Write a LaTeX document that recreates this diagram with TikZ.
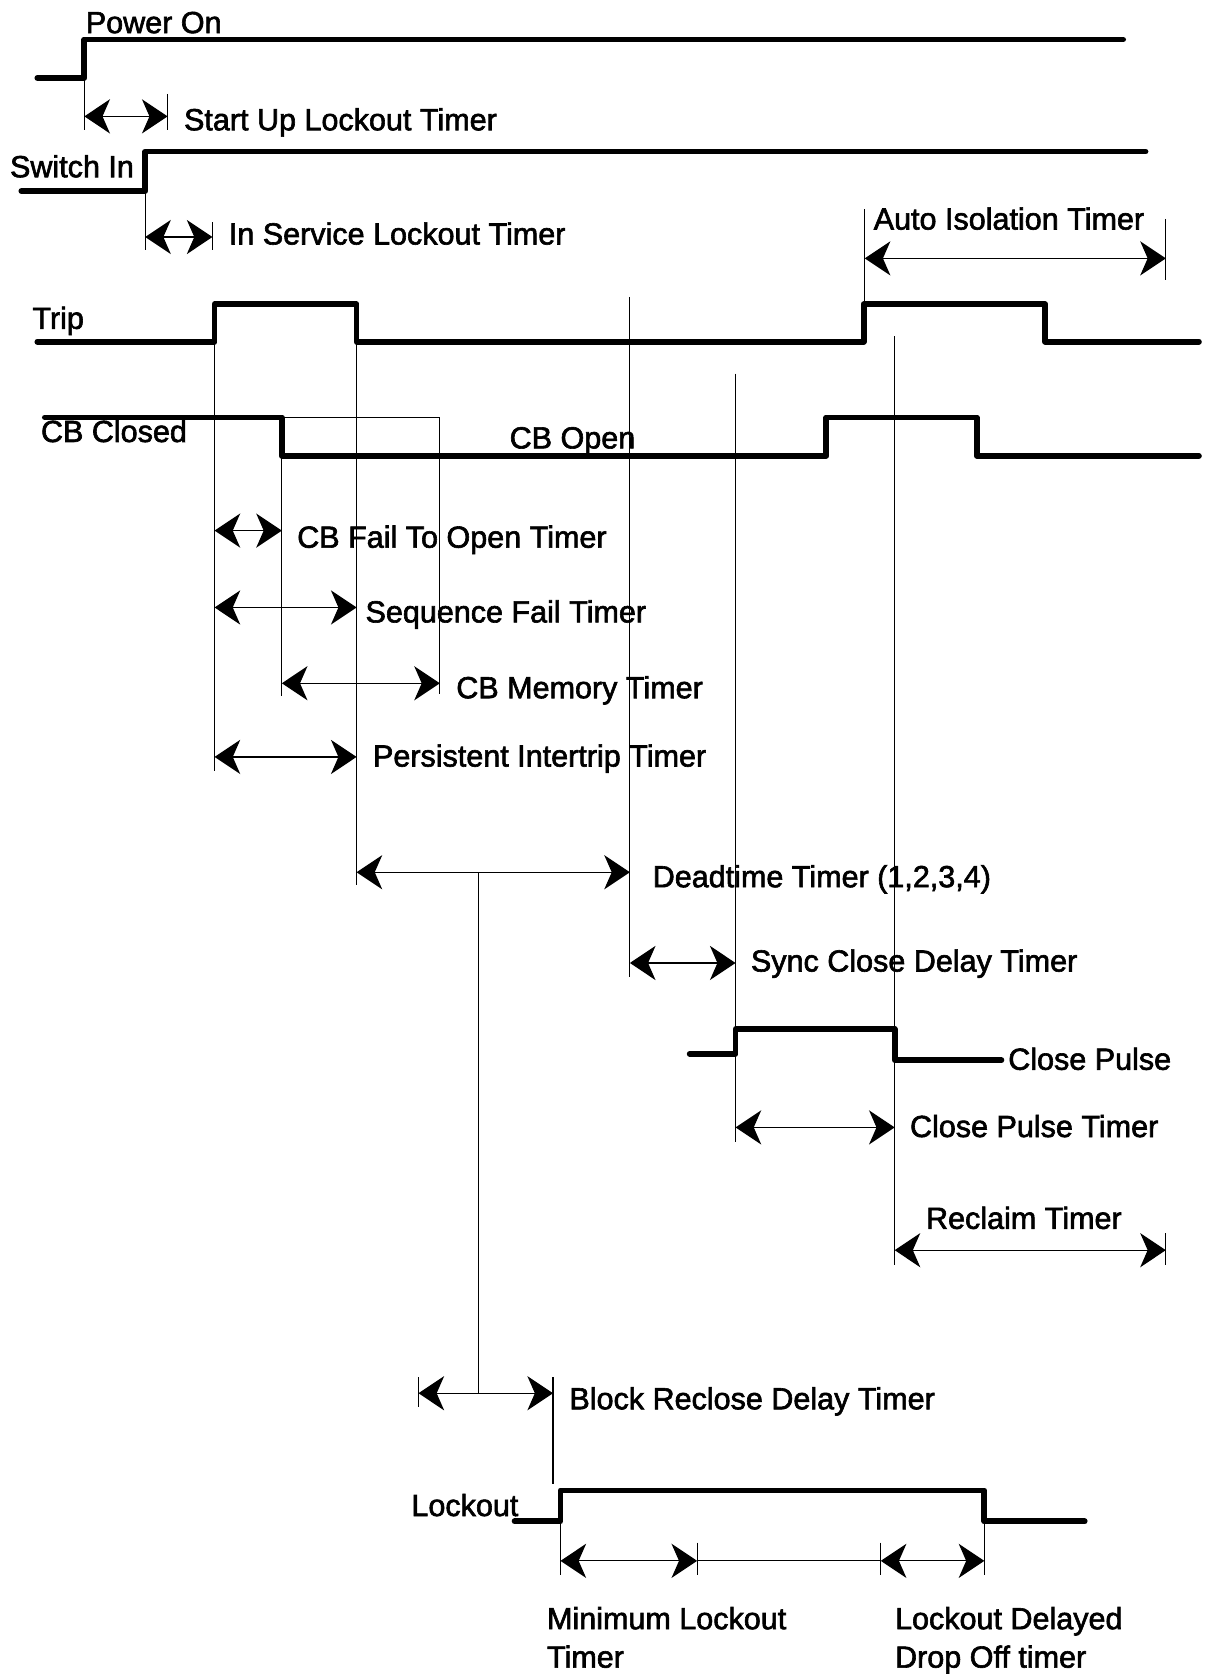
\documentclass[tikz,border=0pt]{standalone}
\usepackage{fontspec}
\setmainfont[FakeBold=2]{Liberation Sans}
\usetikzlibrary{arrows.meta}
\tikzset{
  sig/.style={line width=2.7pt, line cap=round, line join=round},
  guide/.style={line width=0.5pt},
  tmr/.style={line width=0.6pt, {Stealth[length=12pt,width=16pt,inset=3.5pt]}-{Stealth[length=12pt,width=16pt,inset=3.5pt]}},
  lbl/.style={anchor=base west, inner sep=0pt, font=\fontsize{14.3pt}{16pt}\selectfont},
}
\begin{document}
\begin{tikzpicture}[x=0.5pt,y=-0.5pt]
\useasboundingbox (0,0) rectangle (1129,1568);

% ---- signal waveforms ----
\draw[sig] (35,73) -- (79,73) -- (79,37) -- (1052,37);
\draw[sig] (20,179) -- (136,179) -- (136,142) -- (1073,142);
\draw[sig] (35,320) -- (201,320) -- (201,285) -- (334,285) -- (334,320) -- (809,320) -- (809,285) -- (979,285) -- (979,320) -- (1123,320);
\draw[sig] (42,391) -- (264,391) -- (264,427) -- (774,427) -- (774,391) -- (915,391) -- (915,427) -- (1123,427);
\draw[sig] (646,987) -- (689,987) -- (689,964) -- (838,964) -- (838,993) -- (938,993);
\draw[sig] (482,1425) -- (525,1425) -- (525,1396) -- (922,1396) -- (922,1425) -- (1016,1425);

% ---- labels ----
\node[lbl] (lPower) at (80,31) {Power On};
\node[lbl] (lStart) at (172,122) {Start Up Lockout Timer};
\node[lbl] (lSwitch) at (9,166) {Switch In};
\node[lbl] (lService) at (214,229) {In Service Lockout Timer};
\node[lbl] (lAuto) at (818,215) {Auto Isolation Timer};
\node[lbl] (lTrip) at (30,308) {Trip};
\node[lbl] (lClosed) at (38,414) {CB Closed};
\node[lbl] (lOpen) at (477,420) {CB Open};
\node[lbl] (lFail) at (278,513) {CB Fail To Open Timer};
\node[lbl] (lSeq) at (342,583) {Sequence Fail Timer};
\node[lbl] (lMem) at (427,654) {CB Memory Timer};
\node[lbl] (lPers) at (349,718) {Persistent Intertrip Timer};
\node[lbl] (lDead) at (611,831) {Deadtime Timer (1,2,3,4)};
\node[lbl] (lSync) at (703,910) {Sync Close Delay Timer};
\node[lbl] (lPulse) at (944,1002) {Close Pulse};
\node[lbl] (lPulseT) at (852,1065) {Close Pulse Timer};
\node[lbl] (lReclaim) at (867,1151) {Reclaim Timer};
\node[lbl] (lBlock) at (533,1320) {Block Reclose Delay Timer};
\node[lbl] (lLock) at (385,1420) {Lockout};
\node[lbl] (lMin1) at (512,1526) {Minimum Lockout};
\node[lbl] (lMin2) at (512,1562) {Timer};
\node[lbl] (lDrop1) at (838,1526) {Lockout Delayed};
\node[lbl] (lDrop2) at (838,1562) {Drop Off timer};

% ---- guide lines ----
\draw[guide] (79,73) -- (79,122);
\draw[guide] (157,88) -- (157,122);
\draw[guide] (136,179) -- (136,234);
\draw[guide] (199,208) -- (199,234);
\draw[guide] (810,196) -- (810,285);
\draw[guide] (1092,205) -- (1092,262);
\draw[guide] (201,320) -- (201,722);
\draw[guide] (264,427) -- (264,652);
\draw[guide] (264,391) -- (412,391) -- (412,650);
\draw[guide] (334,320) -- (334,829);
\draw[guide] (590,278) -- (590,915);
\draw[guide] (689,350) -- (689,1070);
\draw[guide] (838,315) -- (838,1185);
\draw[guide] (1092,1155) -- (1092,1185);
\draw[guide] (448,817) -- (448,1305);
\draw[guide] (392,1290) -- (392,1318);
\draw[guide] (518,1290) -- (518,1390);
\draw[guide] (525,1425) -- (525,1475);
\draw[guide] (653,1445) -- (653,1475);
\draw[guide] (825,1445) -- (825,1475);
\draw[guide] (922,1425) -- (922,1475);

% ---- timer arrows ----
\draw[tmr] (79,109) -- (157,109);
\draw[tmr] (136,222) -- (199,222);
\draw[tmr] (810,242) -- (1092,242);
\draw[tmr] (201,497) -- (264,497);
\draw[tmr] (201,569) -- (334,569);
\draw[tmr] (264,640) -- (412,640);
\draw[tmr] (201,709) -- (334,709);
\draw[tmr] (334,817) -- (590,817);
\draw[tmr] (590,902) -- (689,902);
\draw[tmr] (689,1056) -- (838,1056);
\draw[tmr] (838,1171) -- (1092,1171);
\draw[tmr] (392,1305) -- (518,1305);
\draw[tmr] (525,1462) -- (653,1462);
\draw[line width=0.6pt] (653,1462) -- (825,1462);
\draw[tmr] (825,1462) -- (922,1462);
\end{tikzpicture}
\end{document}
